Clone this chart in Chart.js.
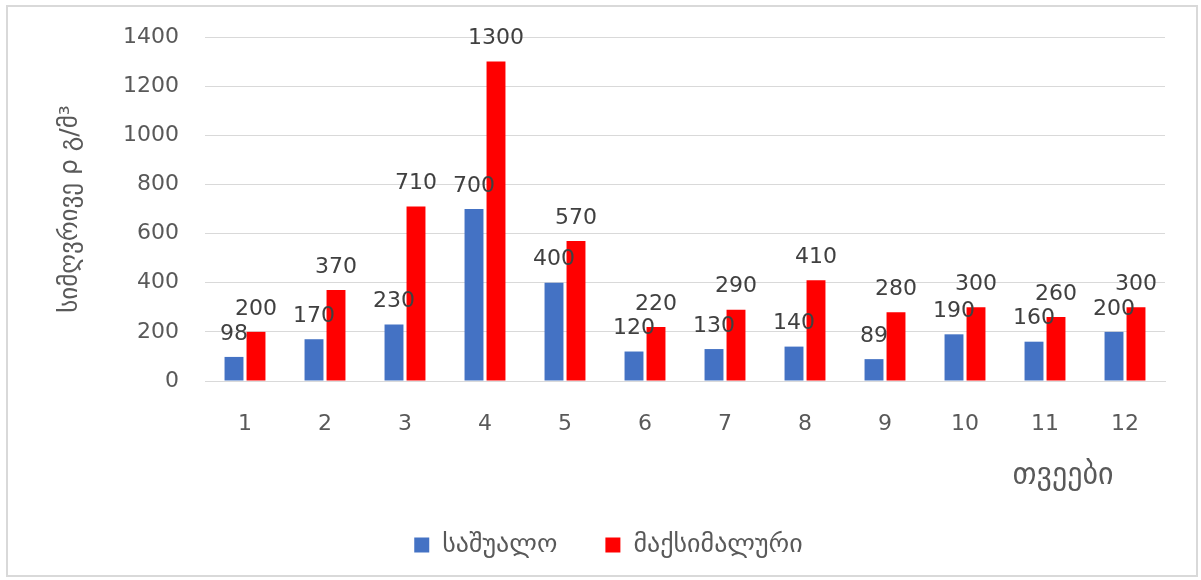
<!DOCTYPE html>
<html>
<head>
<meta charset="utf-8">
<script src="https://cdn.jsdelivr.net/npm/chart.js@4.4.1/dist/chart.umd.min.js"></script>
<style>
	body { margin: 0; background: #fff; }
	#wrap { position: absolute; left: 0; top: 0; width: 1201px; height: 580px; }
	#frame { position: absolute; left: 6px; top: 5px; width: 1188px; height: 568px; border: 2px solid #d9d9d9; pointer-events: none; }
</style>
</head>
<body>
<div id="wrap"><canvas id="chart-turbidity"></canvas></div>
<div id="frame"></div>
<script>
	var months = ["1", "2", "3", "4", "5", "6", "7", "8", "9", "10", "11", "12"];
	var averageValues = [98, 170, 230, 700, 400, 120, 130, 140, 89, 190, 160, 200];
	var maximumValues = [200, 370, 710, 1300, 570, 220, 290, 410, 280, 300, 260, 300];
	var yTicks = [0, 200, 400, 600, 800, 1000, 1200, 1400];

	var fontFamily = "'DejaVu Sans', Verdana, sans-serif";

	// labels above bars
	var barLabels = {
		id: 'barLabels',
		afterDatasetsDraw: function(chart) {
			var ctx = chart.ctx;
			ctx.save();
			ctx.font = '22px ' + fontFamily;
			ctx.fillStyle = '#404040';
			ctx.textAlign = 'center';
			ctx.textBaseline = 'bottom';
			chart.data.datasets.forEach(function(ds, i) {
				chart.getDatasetMeta(i).data.forEach(function(bar, j) {
					ctx.fillText(ds.data[j], bar.x, bar.y - 12);
				});
			});
			ctx.restore();
		}
	};

	// x axis title at the right
	var xTitle = {
		id: 'xTitle',
		afterDraw: function(chart) {
			var ctx = chart.ctx;
			ctx.save();
			ctx.font = '30px ' + fontFamily;
			ctx.fillStyle = '#595959';
			ctx.textAlign = 'center';
			ctx.textBaseline = 'middle';
			ctx.fillText('თვეები', chart.chartArea.right - 102, 476);
			ctx.restore();
		}
	};

	var ctx = document.getElementById("chart-turbidity");
	var chart = new Chart(ctx, {
		type: 'bar',
		data: {
			labels: months,
			datasets: [
				{
					label: 'საშუალო',
					data: averageValues,
					backgroundColor: '#4472C4',
					barPercentage: 0.86,
					categoryPercentage: 0.55
				},
				{
					label: 'მაქსიმალური',
					data: maximumValues,
					backgroundColor: '#FF0000',
					barPercentage: 0.86,
					categoryPercentage: 0.55
				}
			]
		},
		options: {
			responsive: true,
			maintainAspectRatio: false,
			animation: false,
			layout: { padding: { top: 19, right: 36, bottom: 12, left: 52 } },
			plugins: {
				tooltip: { enabled: false },
				legend: {
					position: 'bottom',
					labels: {
						font: { family: fontFamily, size: 26 },
						color: '#595959',
						boxWidth: 15,
						boxHeight: 15,
						padding: 48
					}
				}
			},
			scales: {
				x: {
					grid: { display: false, drawTicks: false },
					border: { color: '#d9d9d9', width: 1 },
					ticks: {
						font: { family: fontFamily, size: 22 },
						color: '#595959',
						padding: 30
					},
					afterFit: function(scale) { scale.height = 103; }
				},
				y: {
					min: 0,
					max: 1400,
					afterBuildTicks: function(scale) {
						scale.ticks = yTicks.map(function(v) { return { value: v }; });
					},
					grid: { color: '#d9d9d9', drawTicks: false },
					border: { display: false },
					ticks: {
						font: { family: fontFamily, size: 22, lineHeight: 1 },
						color: '#595959',
						padding: 26,
						callback: function(value) { return String(value); }
					},
					title: {
						display: true,
						text: 'სიმღვრივე ρ გ/მ³',
						font: { family: fontFamily, size: 25 },
						color: '#595959',
						padding: { top: 3, bottom: 0 }
					},
					afterFit: function(scale) { scale.width = 153; }
				}
			}
		},
		plugins: [barLabels, xTitle]
	});
</script>
</body>
</html>
